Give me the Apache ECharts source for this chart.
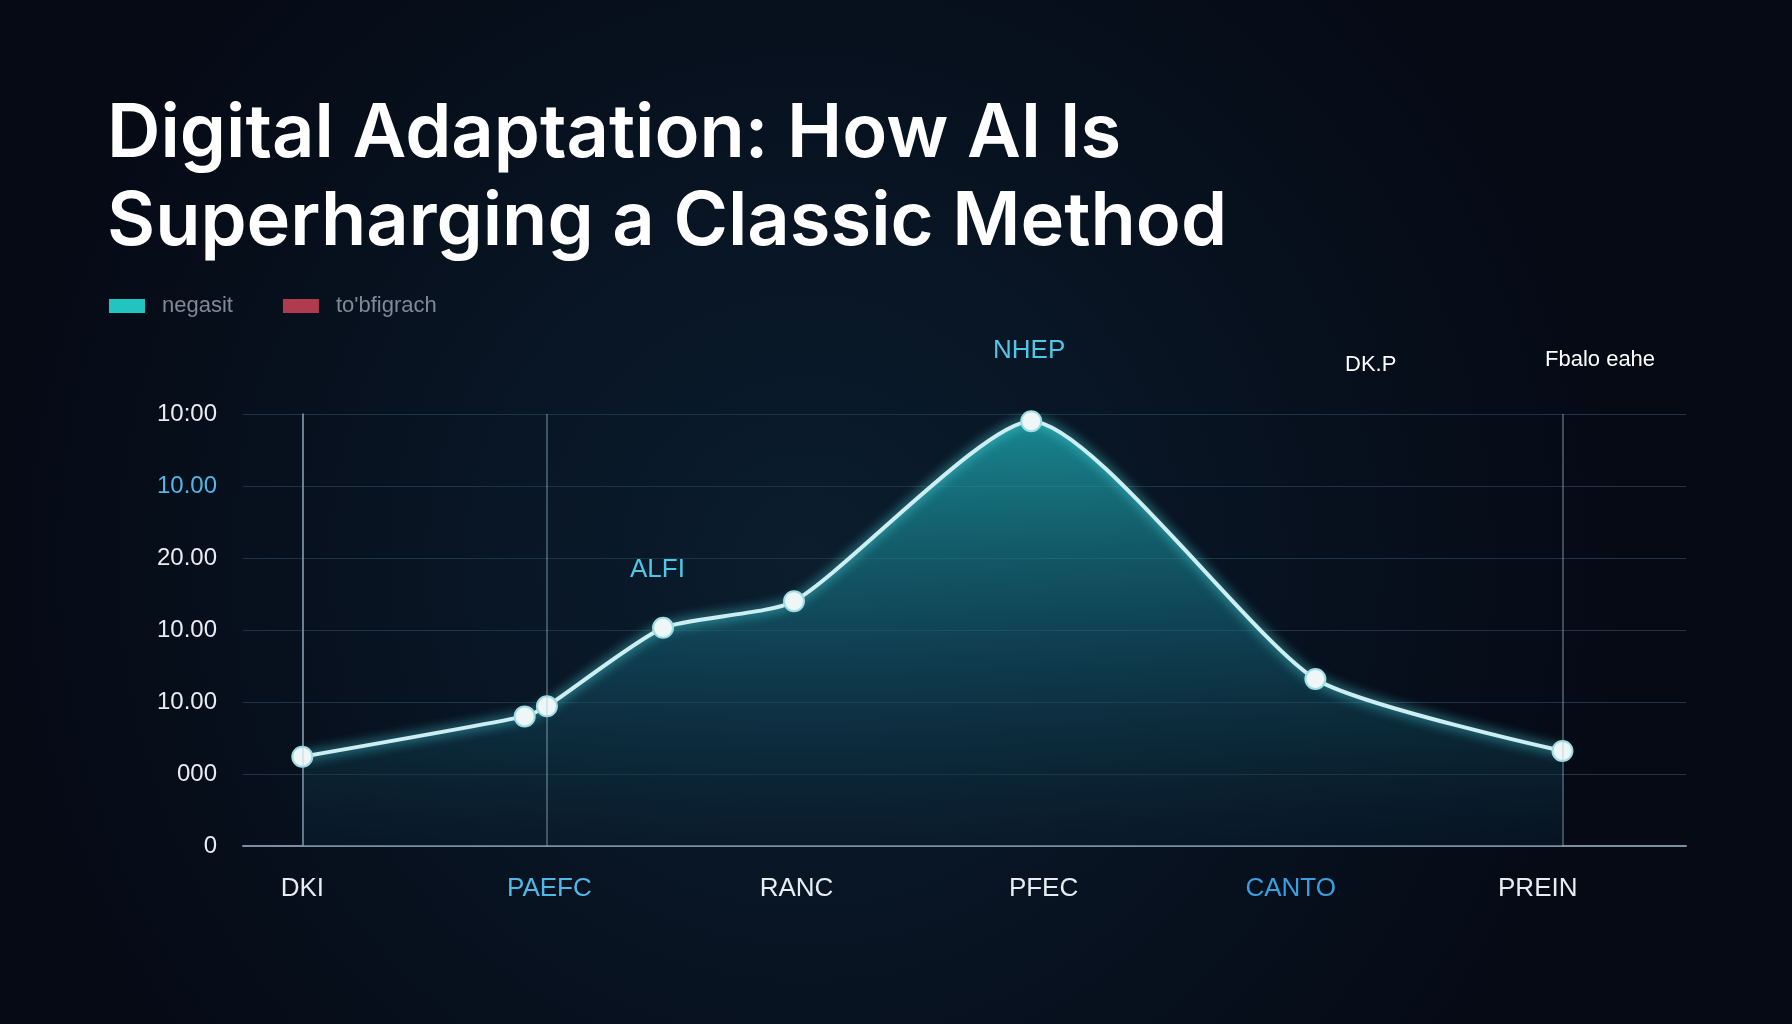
<!DOCTYPE html>
<html>
<head>
<meta charset="utf-8">
<script src="https://cdn.jsdelivr.net/npm/echarts@6/dist/echarts.min.js"></script>
<style>
  html, body { margin: 0; padding: 0; background: #060d1a; }
  #chart { width: 1792px; height: 1024px; }
</style>
</head>
<body>
<div id="chart"></div>
<script>
// category labels sit at integer x positions
const categories = ["DKI", "PAEFC", "RANC", "PFEC", "CANTO", "PREIN"];
const categoryColors = ["#e6edf3", "#4fb8e8", "#e6edf3", "#e6edf3", "#3a9fe0", "#e6edf3"];
const yTickLabels = ["0", "000", "10.00", "10.00", "20.00", "10.00", "10:00"];
const yTickColors = ["#e6edf3", "#e6edf3", "#e6edf3", "#e6edf3", "#e6edf3", "#4fb8e8", "#e6edf3"];

// points along the curve: [x position, value]
const curvePoints = [
  [0, 1.24], [0.9, 1.8], [0.99, 1.94], [1.46, 3.03], [1.99, 3.4],
  [2.95, 5.9], [4.1, 2.32], [5.1, 1.32]
];
const dropLines = [0, 0.99, 5.1];

const chart = echarts.init(document.getElementById("chart"));

const option = {
  backgroundColor: {
    type: "radial", x: 0.45, y: 0.55, r: 0.8,
    colorStops: [{ offset: 0, color: "#0b1d2e" }, { offset: 1, color: "#050a15" }]
  },
  title: {
    text: "Digital Adaptation: How AI Is\nSuperharging a Classic Method",
    left: 102, top: 86,
    textStyle: { color: "#ffffff", fontFamily: "Inter", fontWeight: 600, fontSize: 74, lineHeight: 88 }
  },
  legend: {
    left: 104, top: 290,
    itemWidth: 36, itemHeight: 14, itemGap: 50,
    icon: "rect",
    textStyle: { color: "#7f8a96", fontSize: 22, fontFamily: "Liberation Sans", padding: [0, 0, 0, 12] },
    data: [
      { name: "negasit", itemStyle: { color: "#22c4c0", borderWidth: 0 } },
      { name: "to'bfigrach", itemStyle: { color: "#b03a4e", borderWidth: 0 } }
    ]
  },
  grid: { left: 243, right: 106, top: 414, bottom: 178 },
  xAxis: {
    type: "value", min: -0.24, max: 5.6, interval: 1,
    splitLine: { show: false },
    axisTick: { show: false },
    axisLine: { show: true, lineStyle: { color: "#7d8ea0", width: 2 } },
    axisLabel: {
      margin: 30, fontSize: 26, fontFamily: "Liberation Sans",
      customValues: [0, 1, 2, 3, 4, 5],
      formatter: (v) => "{c" + Math.round(v) + "|" + categories[Math.round(v)] + "}",
      rich: Object.fromEntries(categoryColors.map((c, i) => ["c" + i, { color: c, fontSize: 26 }]))
    }
  },
  yAxis: {
    type: "value", min: 0, max: 6, interval: 1,
    axisLine: { show: true, lineStyle: { color: "#4a5a6b", width: 2 } },
    axisTick: { show: false },
    splitLine: { lineStyle: { color: "#1e3344", width: 1 } },
    axisLabel: {
      margin: 26, fontSize: 24, fontFamily: "Liberation Sans",
      formatter: (v) => "{t" + v + "|" + yTickLabels[v] + "}",
      rich: Object.fromEntries(yTickColors.map((c, i) => ["t" + i, { color: c, fontSize: 24 }]))
    }
  },
  series: [
    {
      name: "negasit", type: "line", smooth: 0.2,
      data: curvePoints,
      symbol: "circle", symbolSize: 20,
      itemStyle: { color: "#eef6f8", borderColor: "#9fdde5", borderWidth: 2 },
      lineStyle: { color: "#cdeef2", width: 4, shadowColor: "#4fe0e8", shadowBlur: 12 },
      areaStyle: {
        color: {
          type: "linear", x: 0, y: 0, x2: 0, y2: 1,
          colorStops: [
            { offset: 0, color: "rgba(32,190,195,0.95)" },
            { offset: 0.5, color: "rgba(22,110,130,0.7)" },
            { offset: 1, color: "rgba(12,40,60,0.4)" }
          ]
        }
      },
      markLine: {
        silent: true, symbol: "none", label: { show: false },
        lineStyle: { color: "rgba(170,200,215,0.35)", type: "solid", width: 2 },
        data: dropLines.map((x) => ({ xAxis: x }))
      },
      z: 3
    },
    { name: "to'bfigrach", type: "line", data: [] }
  ],
  graphic: [
    { type: "text", left: 630, top: 557, style: { text: "ALFI", fill: "#4fc8e8", font: "26px Liberation Sans" } },
    { type: "text", left: 993, top: 338, style: { text: "NHEP", fill: "#4fc8e8", font: "26px Liberation Sans" } },
    { type: "text", left: 1345, top: 354, style: { text: "DK.P", fill: "#ffffff", font: "22px Liberation Sans" } },
    { type: "text", left: 1545, top: 349, style: { text: "Fbalo eahe", fill: "#ffffff", font: "22px Liberation Sans" } }
  ]
};

chart.setOption(option);
</script>
</body>
</html>
